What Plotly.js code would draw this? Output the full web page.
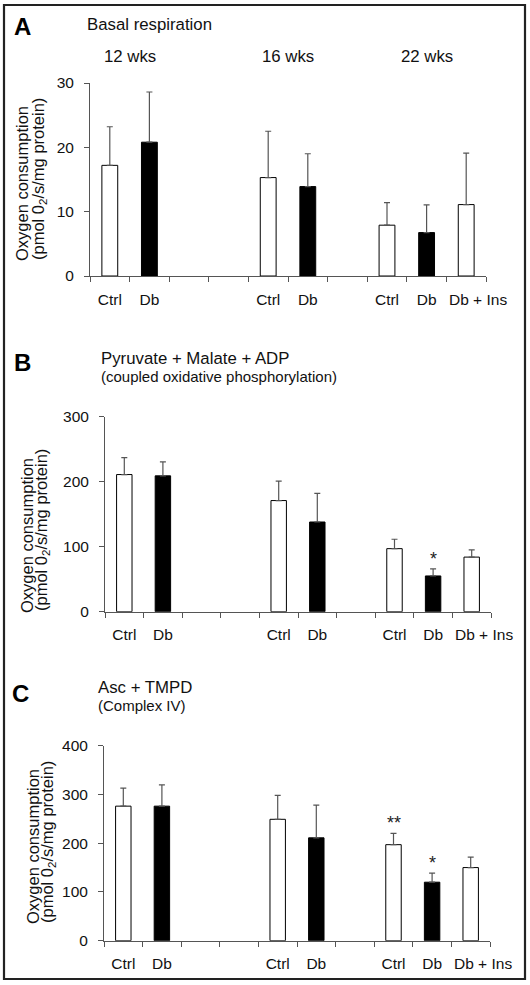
<!DOCTYPE html>
<html><head><meta charset="utf-8">
<script src="https://cdn.plot.ly/plotly-3.0.1.min.js"></script>
<style>html,body{margin:0;padding:0;background:#fff}#chart{width:530px;height:985px}</style>
</head><body><div id="chart"></div>
<script>
// ---- data ----
const categories = ["12 wks Ctrl","12 wks Db","gap 1","gap 2","16 wks Ctrl","16 wks Db","gap 3","22 wks Ctrl","22 wks Db","22 wks Db + Ins"];
const tickLabels = ["Ctrl","Db","","","Ctrl","Db","","Ctrl","Db","Db + Ins"];
const weekOf     = ["12 wks","12 wks",null,null,"16 wks","16 wks",null,"22 wks","22 wks","22 wks"];
const groupType  = ["ctrl","db",null,null,"ctrl","db",null,"ctrl","db","ins"];
const weekLabels = ["12 wks","16 wks","22 wks"];

const basalMean = [17.2,20.8,null,null,15.3,13.9,null,7.9,6.75,11.1];
const basalSD   = [6.0,7.8,null,null,7.2,5.1,null,3.5,4.3,8.0];
const basalSig  = ["","","","","","","","","",""];

const pmMean = [211,209,null,null,171,138,null,97,55,84];
const pmSD   = [26,21.5,null,null,30,44,null,14.5,11,11];
const pmSig  = ["","","","","","","","","*",""];

const ascMean = [276,276,null,null,249,211,null,197,120,150];
const ascSD   = [37,43.5,null,null,49,67,null,23,18.5,21.5];
const ascSig  = ["","","","","","","","**","*",""];

const panelLetters = ["A","B","C"];
const panelTitles  = ["Basal respiration","Pyruvate + Malate + ADP","Asc + TMPD"];
const panelSubs    = ["","(coupled oxidative phosphorylation)","(Complex IV)"];
const yTitle1 = "Oxygen consumption";
const yTitle2 = "(pmol 0<sub>2</sub>/s/mg protein)";

// ---- layout helpers ----
const W = 530, H = 985;
const px = x => x / W;
const py = y => 1 - y / H;
const FONT = "Liberation Sans, Arial, Helvetica, sans-serif";
const fillFor = {ctrl: "#ffffff", db: "#000000", ins: "#ffffff"};
const TICKFONT = {size: 15.5, family: FONT, color: "#111"};

const panels = [
  {mean: basalMean, sd: basalSD, sig: basalSig, yMax: 30,  dtick: 10,
   xPix: [90, 486], yPix: [83, 276], letter: [22, 26], title: [85, 25], sub: null,
   yt1: [22, 184], yt2: [39, 179]},
  {mean: pmMean, sd: pmSD, sig: pmSig, yMax: 300, dtick: 100,
   xPix: [105, 491], yPix: [416.7, 611.7], letter: [22, 362], title: [99, 358], sub: [99, 376],
   yt1: [27, 536], yt2: [42, 530]},
  {mean: ascMean, sd: ascSD, sig: ascSig, yMax: 400, dtick: 100,
   xPix: [104, 490], yPix: [745.7, 940.7], letter: [20, 693], title: [96, 687], sub: [96, 705],
   yt1: [33, 847], yt2: [48, 842]}
];

// the last label sits a little to the right of its bar in the original
const lastIdx = categories.length - 1;
const axisTickText = tickLabels.map((t, i) => i === lastIdx ? "" : t);

const traces = [];
const annotations = [];
const layout = {
  width: W, height: H, autosize: false,
  margin: {l: 0, r: 0, t: 0, b: 0, pad: 0},
  paper_bgcolor: "#fff", plot_bgcolor: "rgba(0,0,0,0)",
  showlegend: false, bargap: 0.6,
  font: {family: FONT, color: "#111", size: 15},
  shapes: [{type: "rect", xref: "paper", yref: "paper",
            x0: px(4), x1: px(525), y0: py(979), y1: py(5),
            line: {color: "#222", width: 2.2}}],
  annotations: annotations
};

panels.forEach((p, k) => {
  const n = k + 1;
  const xa = "x" + (n === 1 ? "" : n), ya = "y" + (n === 1 ? "" : n);
  traces.push({
    type: "bar", x: categories, y: p.mean, xaxis: xa, yaxis: ya,
    marker: {color: groupType.map(g => g ? fillFor[g] : "#fff"),
             line: {color: "#000", width: 1}},
    error_y: {type: "data", symmetric: false, array: p.sd,
              arrayminus: p.sd.map(v => v == null ? null : 0),
              color: "#555", thickness: 1.2, width: 3},
    hoverinfo: "skip"
  });
  layout["xaxis" + (n === 1 ? "" : n)] = {
    domain: [px(p.xPix[0]), px(p.xPix[1])], anchor: ya,
    type: "category", categoryorder: "array", categoryarray: categories,
    range: [-0.5, categories.length - 0.5], fixedrange: true,
    tickmode: "array", tickvals: categories, ticktext: axisTickText, tickangle: 0,
    tickson: "boundaries", ticks: "outside", ticklen: 5, tickwidth: 1, tickcolor: "#555",
    showline: true, linecolor: "#555", linewidth: 1, showgrid: false, zeroline: false,
    tickfont: TICKFONT, ticklabelstandoff: 9
  };
  layout["yaxis" + (n === 1 ? "" : n)] = {
    domain: [py(p.yPix[1]), py(p.yPix[0])], anchor: xa,
    range: [0, p.yMax], dtick: p.dtick, tick0: 0, fixedrange: true,
    ticks: "outside", ticklen: 5, tickwidth: 1, tickcolor: "#555",
    showline: true, linecolor: "#555", linewidth: 1, showgrid: false, zeroline: false,
    tickfont: TICKFONT, ticklabelstandoff: 7
  };
  // last category label, nudged right
  annotations.push({xref: xa, yref: ya, x: categories[lastIdx], y: 0,
    xanchor: "center", yanchor: "middle", showarrow: false, text: tickLabels[lastIdx],
    xshift: 12, yshift: -23, font: TICKFONT});
  annotations.push({xref: "paper", yref: "paper", x: px(p.letter[0]), y: py(p.letter[1]),
    xanchor: "center", yanchor: "middle", showarrow: false, text: "<b>" + panelLetters[k] + "</b>",
    font: {size: 24, family: FONT, color: "#000"}});
  annotations.push({xref: "paper", yref: "paper", x: px(p.title[0]), y: py(p.title[1]),
    xanchor: "left", yanchor: "middle", showarrow: false, text: panelTitles[k],
    font: {size: 16.8, family: FONT, color: "#111"}});
  if (p.sub) annotations.push({xref: "paper", yref: "paper", x: px(p.sub[0]), y: py(p.sub[1]),
    xanchor: "left", yanchor: "middle", showarrow: false, text: panelSubs[k],
    font: {size: 15, family: FONT, color: "#111"}});
  annotations.push({xref: "paper", yref: "paper", x: px(p.yt1[0]), y: py(p.yt1[1]),
    xanchor: "center", yanchor: "middle", showarrow: false, textangle: -90, text: yTitle1,
    font: {size: 16.5, family: FONT, color: "#111"}});
  annotations.push({xref: "paper", yref: "paper", x: px(p.yt2[0]), y: py(p.yt2[1]),
    xanchor: "center", yanchor: "middle", showarrow: false, textangle: -90, text: yTitle2,
    font: {size: 16.5, family: FONT, color: "#111"}});
  p.sig.forEach((s, i) => {
    if (!s) return;
    annotations.push({xref: xa, yref: ya, x: categories[i], y: p.mean[i] + p.sd[i],
      xanchor: "center", yanchor: "bottom", showarrow: false, text: s, yshift: -2,
      font: {size: 18, family: FONT, color: "#222"}});
  });
});

weekLabels.forEach(w => {
  const idx = categories.map((c, i) => weekOf[i] === w ? i : null).filter(v => v !== null);
  const center = idx.reduce((a, b) => a + b, 0) / idx.length;
  annotations.push({xref: "x", yref: "paper", x: center, y: py(57),
    xanchor: "center", yanchor: "middle", showarrow: false, text: w,
    font: {size: 16.8, family: FONT, color: "#111"}});
});

Plotly.newPlot("chart", traces, layout, {staticPlot: true, displayModeBar: false});
</script>
</body></html>
